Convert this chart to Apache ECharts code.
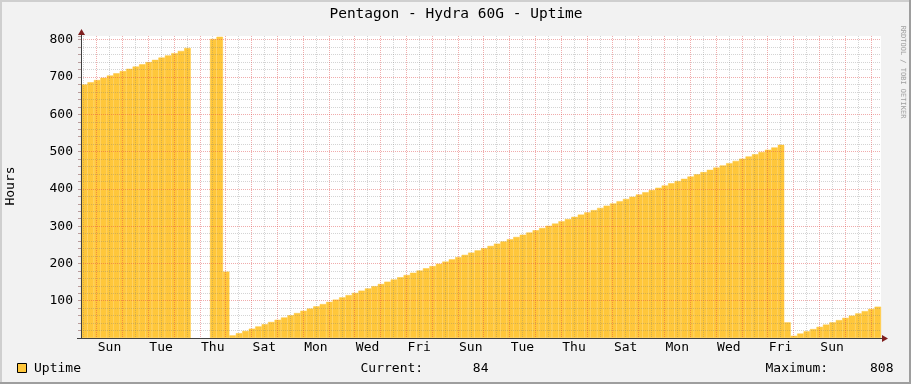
<!DOCTYPE html>
<html><head><meta charset="utf-8">
<script src="https://cdn.jsdelivr.net/npm/echarts@6/dist/echarts.min.js"></script>
<style>html,body{margin:0;padding:0;background:#f2f2f2}#c{width:911px;height:384px}</style>
</head><body><div id="c"></div>
<script>
// ---- data ----
const chartTitle = 'Pentagon - Hydra 60G - Uptime';
const yAxisName = 'Hours';
const seriesName = 'Uptime';
const watermark = 'RRDTOOL / TOBI OETIKER';
// uptime in hours, one value per 6-hour bucket, 31 days starting Sat 09:30 (124 buckets)
const uptimeHours = [
  680,686,692,698,704,710,716,722,728,734,740,746,752,758,764,770,778,
  null,null,null,
  802,808,178,
  7,13,19,25,31,37,43,49,55,61,67,73,79,85,91,97,103,109,115,121,127,133,139,145,
  151,157,163,169,175,181,187,193,199,205,211,217,223,229,235,241,247,253,259,265,
  271,277,283,289,295,301,307,313,319,325,331,337,343,349,355,361,367,373,379,385,
  391,397,403,409,415,421,427,433,439,445,451,457,463,469,475,481,487,493,499,505,511,518,
  42,
  6,12,18,24,30,36,42,48,54,60,66,72,78,84
];
const dayLabels = ['Sun','Tue','Thu','Sat','Mon','Wed','Fri','Sun','Tue','Thu','Sat','Mon','Wed','Fri','Sun'];
const yTickLabels = [100,200,300,400,500,600,700,800];

// ---- layout ----
const FONT = 'DejaVu Sans Mono';
const PLOT_L = 81, PLOT_T = 36, PLOT_W = 800, PLOT_H = 302;
const Y_MAX = 810;
const START_H = 9.5;          // chart starts Sat 09:30 (hours after Sat 00:00)
const SPAN_H = 744;           // 31 days
const BUCKET_H = 6;
const pxPerH = PLOT_W / SPAN_H;
const gridBLeft = PLOT_L - START_H * pxPerH;
const FIRST_LABEL_H = 36;     // Sun 12:00
const LABEL_STEP_H = 48;

const categories = uptimeHours.map((_, i) => String(START_H + i * BUCKET_H));
const currentVal = uptimeHours[uptimeHours.length - 1];
const maxVal = Math.max(...uptimeHours.filter(v => v != null));

const minorCol = 'rgba(120,120,120,0.32)';
const majorCol = 'rgba(222,70,70,0.45)';
const barCol = '#FFC73B';

const chart = echarts.init(document.getElementById('c'), null, {renderer: 'canvas', width: 911, height: 384});
const option = {
  backgroundColor: '#f2f2f2',
  animation: false,
  textStyle: {fontFamily: FONT},
  grid: [
    {left: PLOT_L, top: PLOT_T, width: PLOT_W, height: PLOT_H, show: true, backgroundColor: '#ffffff', borderWidth: 0},
    {left: gridBLeft, top: PLOT_T, width: PLOT_W + START_H * pxPerH, height: PLOT_H, show: false}
  ],
  xAxis: [
    {gridIndex: 0, type: 'category', data: categories, boundaryGap: true,
     axisLine: {show: true, lineStyle: {color: '#404040', width: 1}},
     axisTick: {show: false}, axisLabel: {show: false}, splitLine: {show: false}, z: 6},
    {gridIndex: 1, type: 'value', min: 0, max: START_H + SPAN_H, interval: 12,
     axisLine: {show: false}, axisTick: {show: false},
     axisLabel: {show: true, fontFamily: FONT, fontSize: 13, color: '#000', margin: 3, hideOverlap: false,
       formatter: v => {
         const k = (v - FIRST_LABEL_H) / LABEL_STEP_H;
         return (Number.isInteger(k) && k >= 0 && k < dayLabels.length) ? dayLabels[k] : '';
       }},
     splitLine: {show: true, showMinLine: false, showMaxLine: false,
       lineStyle: {color: [minorCol, majorCol], type: [1, 1], width: 1}}, z: 5}
  ],
  yAxis: [
    {gridIndex: 0, type: 'value', min: 0, max: Y_MAX, interval: 20,
     axisLine: {show: true, lineStyle: {color: '#404040', width: 1}},
     axisTick: {show: true, length: 3, lineStyle: {color: 'rgba(160,120,120,0.7)'}},
     axisLabel: {fontFamily: FONT, fontSize: 13, color: '#000', margin: 8,
       formatter: v => yTickLabels.includes(v) ? String(v) : ''},
     splitLine: {show: true, showMinLine: false, showMaxLine: false,
       lineStyle: {color: [minorCol, minorCol, minorCol, minorCol, majorCol], type: [1, 1], width: 1}}, z: 5},
    {gridIndex: 1, type: 'value', min: 0, max: Y_MAX, show: false}
  ],
  series: [{
    name: seriesName, type: 'bar', xAxisIndex: 0, yAxisIndex: 0, data: uptimeHours,
    barCategoryGap: '0%', barGap: '0%',
    itemStyle: {color: barCol, borderColor: barCol, borderWidth: 0.5}, z: 2, silent: true
  }],
  graphic: [
    // frame
    {type: 'rect', shape: {x: 0, y: 0, width: 911, height: 2}, style: {fill: '#cfcfcf'}, z: 50},
    {type: 'rect', shape: {x: 0, y: 0, width: 2, height: 384}, style: {fill: '#cfcfcf'}, z: 50},
    {type: 'rect', shape: {x: 909, y: 0, width: 2, height: 384}, style: {fill: '#9e9e9e'}, z: 51},
    {type: 'rect', shape: {x: 0, y: 382, width: 911, height: 2}, style: {fill: '#9e9e9e'}, z: 51},
    // axis extensions and arrows
    {type: 'line', shape: {x1: 77, y1: 338.5, x2: 82, y2: 338.5}, style: {stroke: '#404040', lineWidth: 1}, z: 50},
    {type: 'line', shape: {x1: 880, y1: 338.5, x2: 883, y2: 338.5}, style: {stroke: '#404040', lineWidth: 1}, z: 50},
    {type: 'line', shape: {x1: 81.5, y1: 33, x2: 81.5, y2: 37}, style: {stroke: '#404040', lineWidth: 1}, z: 50},
    {type: 'polygon', shape: {points: [[78, 35], [85, 35], [81.5, 29]]}, style: {fill: '#7f1f1f'}, z: 50},
    {type: 'polygon', shape: {points: [[882, 335], [882, 342], [888, 338.5]]}, style: {fill: '#7f1f1f'}, z: 50},
    // title
    {type: 'text', x: 456, y: 14, style: {text: chartTitle, font: '14.5px "' + FONT + '"', fill: '#000', align: 'center', verticalAlign: 'middle'}, z: 50},
    // y axis name
    {type: 'text', x: 11, y: 186, rotation: Math.PI / 2, style: {text: yAxisName, font: '13px "' + FONT + '"', fill: '#000', align: 'center', verticalAlign: 'middle'}, z: 50},
    // watermark
    {type: 'text', x: 903, y: 72, rotation: -Math.PI / 2, style: {text: watermark, font: '7px "' + FONT + '"', fill: '#a0a0a0', align: 'center', verticalAlign: 'middle'}, z: 50},
    // legend
    {type: 'rect', shape: {x: 17.5, y: 363.5, width: 9, height: 9}, style: {fill: barCol, stroke: '#000', lineWidth: 1}, z: 50},
    {type: 'text', x: 34, y: 368.5, style: {text: seriesName, font: '13px "' + FONT + '"', fill: '#000', verticalAlign: 'middle'}, z: 50},
    {type: 'text', x: 360.5, y: 368.5, style: {text: 'Current:', font: '13px "' + FONT + '"', fill: '#000', verticalAlign: 'middle'}, z: 50},
    {type: 'text', x: 488.5, y: 368.5, style: {text: String(currentVal), font: '13px "' + FONT + '"', fill: '#000', align: 'right', verticalAlign: 'middle'}, z: 50},
    {type: 'text', x: 765.5, y: 368.5, style: {text: 'Maximum:', font: '13px "' + FONT + '"', fill: '#000', verticalAlign: 'middle'}, z: 50},
    {type: 'text', x: 893.5, y: 368.5, style: {text: String(maxVal), font: '13px "' + FONT + '"', fill: '#000', align: 'right', verticalAlign: 'middle'}, z: 50}
  ]
};
chart.setOption(option);
</script>
</body></html>
